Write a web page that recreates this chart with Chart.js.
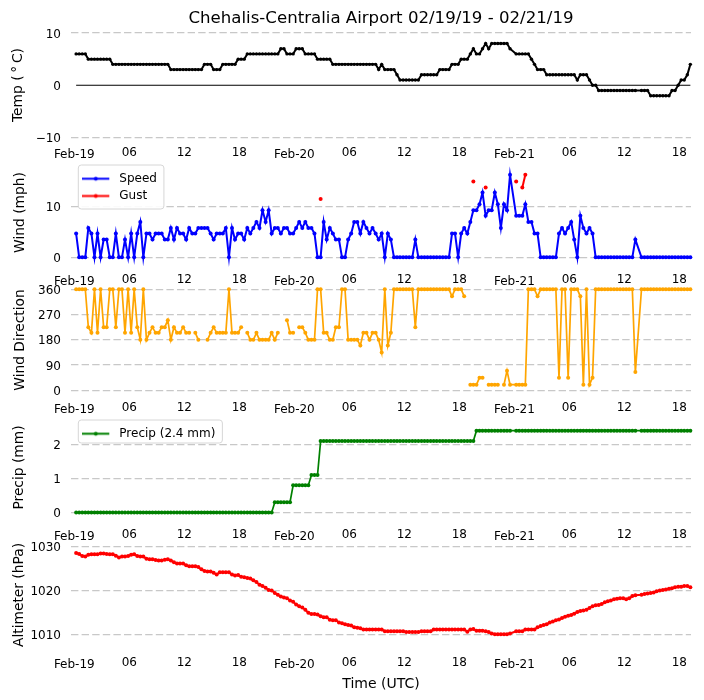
<!DOCTYPE html>
<html>
<head>
<meta charset="utf-8">
<title>Chehalis-Centralia Airport</title>
<script src="https://cdn.jsdelivr.net/npm/chart.js@4/dist/chart.umd.min.js"></script>
<style>
  html, body { margin: 0; background: #fff; }
  canvas { position: absolute; left: 0; }
</style>
</head>
<body>
<canvas id="tempChart" width="704" height="164" style="top:0"></canvas>
<canvas id="windChart" width="704" height="139" style="top:152px"></canvas>
<canvas id="dirChart" width="704" height="139" style="top:279px"></canvas>
<canvas id="precipChart" width="704" height="139" style="top:407px"></canvas>
<canvas id="altChart" width="704" height="166" style="top:534px"></canvas>
<script>
// hours since 02/19 00 UTC, one row of 10 observations
const obsHours = [
  0.2,0.53,0.87,1.2,1.53,1.87,2.2,2.53,2.87,3.2,
  3.53,3.87,4.2,4.53,4.87,5.2,5.53,5.87,6.2,6.53,
  6.87,7.2,7.53,7.87,8.2,8.53,8.87,9.2,9.53,9.87,
  10.2,10.53,10.87,11.2,11.53,11.87,12.2,12.53,12.87,13.2,
  13.53,13.87,14.2,14.53,14.87,15.2,15.53,15.87,16.2,16.53,
  16.87,17.2,17.53,17.87,18.2,18.53,18.87,19.2,19.53,19.87,
  20.2,20.53,20.87,21.2,21.53,21.87,22.2,22.53,22.87,23.2,
  23.53,23.87,24.2,24.53,24.87,25.2,25.53,25.87,26.2,26.53,
  26.87,27.2,27.53,27.87,28.2,28.53,28.87,29.2,29.53,29.87,
  30.2,30.53,30.87,31.2,31.53,31.87,32.2,32.53,32.87,33.2,
  33.53,33.87,34.2,34.53,34.87,35.2,35.53,35.87,36.2,36.53,
  36.87,37.2,37.53,37.87,38.2,38.53,38.87,39.2,39.53,39.87,
  40.2,40.53,40.87,41.2,41.53,41.87,42.2,42.53,42.87,43.2,
  43.53,43.87,44.2,44.53,44.87,45.2,45.53,45.87,46.2,46.53,
  46.87,47.2,47.53,48.2,48.53,48.87,49.2,49.53,49.87,
  50.2,50.53,50.87,51.2,51.53,51.87,52.2,52.53,52.87,53.2,
  53.53,53.87,54.2,54.53,54.87,55.2,55.53,55.87,56.2,56.53,
  56.87,57.2,57.53,57.87,58.2,58.53,58.87,59.2,59.53,59.87,
  60.2,60.53,60.87,61.2,61.87,62.2,62.53,62.87,63.2,
  63.53,63.87,64.2,64.53,64.87,65.2,65.53,65.87,66.2,66.53,
  66.87,67.2
];

const tempC = [
  6,6,6,6,5,5,5,5,5,5,
  5,5,4,4,4,4,4,4,4,4,
  4,4,4,4,4,4,4,4,4,4,
  4,3,3,3,3,3,3,3,3,3,
  3,3,4,4,4,3,3,3,4,4,
  4,4,4,5,5,5,6,6,6,6,
  6,6,6,6,6,6,6,7,7,6,
  6,6,7,7,7,6,6,6,6,5,
  5,5,5,5,4,4,4,4,4,4,
  4,4,4,4,4,4,4,4,4,3,
  4,3,3,3,3,2,1,1,1,1,
  1,1,1,2,2,2,2,2,2,3,
  3,3,3,4,4,4,5,5,5,6,
  7,6,6,7,8,7,8,8,8,8,
  8,8,7,6,6,6,6,6,5,
  4,3,3,3,2,2,2,2,2,2,
  2,2,2,2,1,2,2,2,1,0,
  0,-1,-1,-1,-1,-1,-1,-1,-1,-1,
  -1,-1,-1,-1,-1,-1,-1,-2,-2,
  -2,-2,-2,-2,-2,-1,-1,0,1,1,
  2,4
];

const speedMph = [
  4.7,0,0,0,5.8,4.7,0,4.7,0,3.5,
  3.5,0,0,4.7,0,0,3.5,0,4.7,0,
  4.7,7,0,4.7,4.7,3.5,4.7,4.7,4.7,3.5,
  3.5,5.8,3.5,5.8,4.7,4.7,3.5,5.8,4.7,4.7,
  5.8,5.8,5.8,5.8,4.7,3.5,4.7,4.7,4.7,5.8,
  0,5.8,3.5,4.7,4.7,3.5,5.8,4.7,5.8,7,
  5.8,9.3,7,9.3,4.7,5.8,5.8,4.7,5.8,5.8,
  4.7,4.7,5.8,7,5.8,7,5.8,5.8,4.7,0,
  0,7,3.5,5.8,4.7,3.5,3.5,0,0,3.5,
  4.7,7,7,4.7,7,5.8,4.7,5.8,4.7,3.5,
  4.7,0,4.7,3.5,0,0,0,0,0,0,
  0,3.5,0,0,0,0,0,0,0,0,
  0,0,0,4.7,4.7,0,4.7,5.8,4.7,7,
  9.3,9.3,10.5,12.8,8.2,9.3,9.3,12.8,10.5,5.8,
  10.5,9.3,16.3,8.2,8.2,8.2,10.5,7,7,
  4.7,4.7,0,0,0,0,0,0,4.7,5.8,
  4.7,5.8,7,3.5,0,8.2,5.8,4.7,5.8,4.7,
  0,0,0,0,0,0,0,0,0,0,
  0,0,0,3.5,0,0,0,0,0,
  0,0,0,0,0,0,0,0,0,0,
  0,0
];

// gusts are sparse, nulls keep them from joining up
const gustHours = [26.87,27,43.53,44,44.87,45,48.2,48.5,48.87,49.2];
const gustMph = [11.5,null,15,null,13.8,null,15,null,13.8,16.3];

const dirDeg = [
  360,360,360,360,225,205,360,205,360,225,
  225,360,360,225,360,360,205,360,205,360,
  225,180,360,180,205,225,205,205,225,225,
  250,180,225,205,205,225,205,205,null,205,
  180,null,null,180,205,225,205,205,205,205,
  360,205,205,205,225,null,205,180,180,205,
  180,180,180,180,205,180,205,null,null,250,
  205,205,null,225,225,205,180,180,180,360,
  360,205,205,180,180,225,225,360,360,180,
  180,180,180,160,205,205,180,205,205,180,
  135,360,160,205,360,360,360,360,360,360,
  360,225,360,360,360,360,360,360,360,360,
  360,360,360,335,360,360,360,335,null,20,
  20,20,45,45,null,20,20,20,20,null,
  20,70,20,20,20,20,20,360,360,
  360,335,360,360,360,360,360,360,45,360,
  360,45,360,360,360,335,20,360,20,45,
  360,360,360,360,360,360,360,360,360,360,
  360,360,360,65,360,360,360,360,360,
  360,360,360,360,360,360,360,360,360,360,
  360,360
];

const precipMm = [
  0,0,0,0,0,0,0,0,0,0,
  0,0,0,0,0,0,0,0,0,0,
  0,0,0,0,0,0,0,0,0,0,
  0,0,0,0,0,0,0,0,0,0,
  0,0,0,0,0,0,0,0,0,0,
  0,0,0,0,0,0,0,0,0,0,
  0,0,0,0,0,0.3,0.3,0.3,0.3,0.3,
  0.3,0.8,0.8,0.8,0.8,0.8,0.8,1.1,1.1,1.1,
  2.1,2.1,2.1,2.1,2.1,2.1,2.1,2.1,2.1,2.1,
  2.1,2.1,2.1,2.1,2.1,2.1,2.1,2.1,2.1,2.1,
  2.1,2.1,2.1,2.1,2.1,2.1,2.1,2.1,2.1,2.1,
  2.1,2.1,2.1,2.1,2.1,2.1,2.1,2.1,2.1,2.1,
  2.1,2.1,2.1,2.1,2.1,2.1,2.1,2.1,2.1,2.1,
  2.1,2.4,2.4,2.4,2.4,2.4,2.4,2.4,2.4,2.4,
  2.4,2.4,2.4,2.4,2.4,2.4,2.4,2.4,2.4,
  2.4,2.4,2.4,2.4,2.4,2.4,2.4,2.4,2.4,2.4,
  2.4,2.4,2.4,2.4,2.4,2.4,2.4,2.4,2.4,2.4,
  2.4,2.4,2.4,2.4,2.4,2.4,2.4,2.4,2.4,2.4,
  2.4,2.4,2.4,2.4,2.4,2.4,2.4,2.4,2.4,
  2.4,2.4,2.4,2.4,2.4,2.4,2.4,2.4,2.4,2.4,
  2.4,2.4
];

const altHpa = [
  1028.5,1028.3,1027.8,1027.7,1028.1,1028.2,1028.2,1028.2,1028.4,1028.4,
  1028.3,1028.2,1028.2,1027.9,1027.5,1027.7,1027.7,1027.8,1028.1,1028.2,
  1027.8,1027.7,1027.7,1027.2,1027.1,1027.1,1026.9,1026.8,1026.8,1027.0,
  1027.1,1026.8,1026.4,1026.1,1026.1,1026.1,1025.7,1025.5,1025.5,1025.5,
  1025.3,1024.8,1024.4,1024.3,1024.3,1024.0,1023.6,1024.1,1024.1,1024.1,
  1024.1,1023.6,1023.4,1023.5,1023.1,1023.0,1022.8,1022.7,1022.3,1021.9,
  1021.3,1021.0,1020.6,1020.1,1020.0,1019.4,1019.0,1018.6,1018.4,1018.2,
  1017.7,1017.4,1016.8,1016.4,1016.1,1015.6,1014.9,1014.6,1014.6,1014.5,
  1014.1,1013.9,1013.9,1013.3,1013.2,1013.2,1012.7,1012.5,1012.3,1012.1,
  1012.0,1011.6,1011.5,1011.4,1011.1,1011.1,1011.1,1011.1,1011.1,1011.1,
  1011.1,1010.7,1010.7,1010.7,1010.7,1010.7,1010.7,1010.7,1010.5,1010.5,
  1010.5,1010.5,1010.5,1010.7,1010.7,1010.7,1010.7,1011.1,1011.1,1011.1,
  1011.1,1011.1,1011.1,1011.1,1011.1,1011.1,1011.1,1011.1,1010.6,1011.1,
  1011.2,1010.8,1010.8,1010.8,1010.7,1010.5,1010.2,1010.0,1010.0,1010.0,
  1010.0,1010.0,1010.2,1010.7,1010.7,1010.7,1011.1,1011.1,1011.1,
  1011.1,1011.6,1011.9,1012.1,1012.3,1012.7,1012.9,1013.2,1013.4,1013.7,
  1014.0,1014.2,1014.4,1014.7,1015.1,1015.3,1015.4,1015.6,1016.0,1016.4,
  1016.6,1016.7,1016.9,1017.3,1017.5,1017.7,1018.0,1018.1,1018.2,1018.2,
  1018.0,1018.2,1018.7,1018.9,1019.0,1019.2,1019.3,1019.4,1019.5,
  1019.8,1020.0,1020.1,1020.2,1020.4,1020.5,1020.7,1020.8,1020.8,1021.0,
  1021.0,1020.7
];

// the thin solid line at 0 C
const zeroHours = [0.2,67.2];
const zeroLine = [0,0];

const xTickHours = [0,6,12,18,24,30,36,42,48,54,60,66];
const xTickLabels = ["Feb-19","06","12","18","Feb-20","06","12","18","Feb-21","06","12","18"];
const tempTicks = [-10,0,10];
const windTicks = [0,10];
const dirTicks = [0,90,180,270,360];
const precipTicks = [0,1,2];
const altTicks = [1010,1020,1030];

const FONT = "'DejaVu Sans'";
const GRID = "#c8c8c8";

function pts(xs, ys) {
  return xs.map((x, i) => ({ x: x, y: ys[i] }));
}

function series(label, xs, ys, color, lineWidth, radius) {
  return {
    label: label,
    data: pts(xs, ys),
    borderColor: color,
    backgroundColor: color,
    borderWidth: lineWidth,
    pointRadius: radius,
    pointBorderWidth: 0,
    pointHoverRadius: radius,
    tension: 0,
    spanGaps: false,
    clip: false
  };
}

// line + dot legend handle, same as the matplotlib one
function handle(color) {
  const c = document.createElement("canvas");
  c.width = 31;
  c.height = 7;
  const g = c.getContext("2d");
  g.strokeStyle = color;
  g.fillStyle = color;
  g.lineWidth = 2;
  g.beginPath();
  g.moveTo(0, 3.5);
  g.lineTo(27, 3.5);
  g.stroke();
  g.beginPath();
  g.arc(13.5, 3.5, 2, 0, Math.PI * 2);
  g.fill();
  return c;
}

// legend box sits over the grid but under its own labels
const legendFrame = {
  id: "legendFrame",
  afterUpdate(chart) {
    const lg = chart.legend;
    if (!lg || !lg.options.display || lg.framed) return;
    lg.framed = true;
    const draw = lg.draw.bind(lg);
    const boxHeight = chart.data.datasets.length === 2 ? 44 : 23;
    lg.draw = function () {
      const ctx = chart.ctx;
      const hb = lg.legendHitBoxes;
      ctx.save();
      ctx.translate(6, 15.4);
      ctx.beginPath();
      ctx.roundRect(hb[0].left - 4, hb[0].top - 7.7,
        Math.max(...hb.map(b => b.width)) + 11, boxHeight, 3);
      ctx.fillStyle = "rgba(255,255,255,0.9)";
      ctx.fill();
      ctx.strokeStyle = "#d6d6d6";
      ctx.lineWidth = 1;
      ctx.stroke();
      draw();
      ctx.restore();
    };
  }
};

function panel(id, cfg) {
  return new Chart(document.getElementById(id), {
    type: "line",
    data: { datasets: cfg.datasets },
    plugins: [legendFrame],
    options: {
      responsive: false,
      animation: false,
      events: [],
      layout: { padding: { top: cfg.padTop, right: 13, left: 0, bottom: 0 } },
      plugins: {
        title: cfg.title ? {
          display: true,
          text: cfg.title,
          fullSize: false,
          color: "#000",
          font: { family: FONT, size: 16.6, weight: "normal", lineHeight: 1.2 },
          padding: { top: 9, bottom: 3.58 }
        } : { display: false },
        tooltip: { enabled: false },
        legend: cfg.legend ? {
          display: true,
          position: "chartArea",
          align: "start",
          labels: {
            usePointStyle: true,
            pointStyleWidth: 31,
            padding: 5.3,
            color: "#000",
            font: { family: FONT, size: 12 },
            generateLabels: () => cfg.legend.map(l => ({
              text: l.text,
              pointStyle: handle(l.color),
              fontColor: "#000",
              strokeStyle: l.color,
              fillStyle: l.color,
              lineWidth: 0
            }))
          }
        } : { display: false }
      },
      scales: {
        x: {
          type: "linear",
          min: -0.36,
          max: 67.27,
          afterBuildTicks: s => { s.ticks = xTickHours.map(v => ({ value: v })); },
          afterFit: s => { s.height = cfg.bottomRoom; s.paddingLeft = 0; s.paddingRight = 0; },
          grid: { display: false, drawTicks: false },
          border: { display: false },
          title: cfg.xTitle ? {
            display: true,
            text: cfg.xTitle,
            color: "#000",
            font: { family: FONT, size: 14 },
            padding: { top: 0, bottom: 7 }
          } : { display: false },
          ticks: {
            autoSkip: false,
            maxRotation: 0,
            padding: 8,
            color: "#000",
            // date labels hang a bit lower than the hour labels
            font: c => ({
              family: FONT,
              size: 12,
              lineHeight: c.tick && c.tick.value % 24 === 0 ? 1.53 : 1.2
            }),
            callback: v => xTickLabels[xTickHours.indexOf(v)]
          }
        },
        y: {
          min: cfg.yMin,
          max: cfg.yMax,
          afterBuildTicks: s => { s.ticks = cfg.yTicks.map(v => ({ value: v })); },
          afterFit: s => { s.width = 71; s.paddingTop = 0; s.paddingBottom = 0; },
          border: { display: false, dash: [7.4, 3.2] },
          grid: {
            drawTicks: false,
            lineWidth: 1.3,
            color: c => (cfg.hideZero && c.tick && c.tick.value === 0) ? "rgba(0,0,0,0)" : GRID
          },
          title: {
            display: true,
            text: cfg.yTitle,
            color: "#000",
            font: { family: FONT, size: 13.8 },
            padding: { top: cfg.yTitlePad, bottom: 0 }
          },
          ticks: {
            padding: 10,
            labelOffset: 1.5,
            color: "#000",
            font: { family: FONT, size: 12 },
            callback: v => String(v).replace("-", "\u2212")
          }
        }
      }
    }
  });
}

const zeroSeries = series("zero", zeroHours, zeroLine, "#000", 1.2, 0);

panel("tempChart", {
  title: "Chehalis-Centralia Airport 02/19/19 - 02/21/19",
  padTop: 0,
  datasets: [series("Temp", obsHours, tempC, "#000", 2, 1.7), zeroSeries],
  yMin: -10, yMax: 10.1, yTicks: tempTicks,
  yTitle: "Temp (\u2009\u00b0\u2009C)", yTitlePad: 10, hideZero: true,
  bottomRoom: 26.5
});

panel("windChart", {
  padTop: 8,
  datasets: [
    series("Speed", obsHours, speedMph, "#0000ff", 2, 2),
    series("Gust", gustHours, gustMph, "#ff0000", 2, 2)
  ],
  legend: [{ text: "Speed", color: "#0000ff" }, { text: "Gust", color: "#ff0000" }],
  yMin: -1.52, yMax: 19.23, yTicks: windTicks,
  yTitle: "Wind (mph)", yTitlePad: 12,
  bottomRoom: 26
});

panel("dirChart", {
  padTop: 8.5,
  datasets: [series("Direction", obsHours, dirDeg, "#ffa500", 1.7, 2)],
  yMin: -7.8, yMax: 366.4, yTicks: dirTicks,
  yTitle: "Wind Direction", yTitlePad: 12,
  bottomRoom: 25.5
});

panel("precipChart", {
  padTop: 8,
  datasets: [series("Precip", obsHours, precipMm, "#008000", 1.7, 2)],
  legend: [{ text: "Precip (2.4 mm)", color: "#008000" }],
  yMin: -0.22, yMax: 2.86, yTicks: precipTicks,
  yTitle: "Precip (mm)", yTitlePad: 11,
  bottomRoom: 26
});

panel("altChart", {
  padTop: 8.5,
  datasets: [series("Altimeter", obsHours, altHpa, "#ff0000", 2, 2)],
  yMin: 1007, yMax: 1030.9, yTicks: altTicks,
  yTitle: "Altimeter (hPa)", yTitlePad: 11,
  xTitle: "Time (UTC)",
  bottomRoom: 52.5
});
</script>
</body>
</html>
